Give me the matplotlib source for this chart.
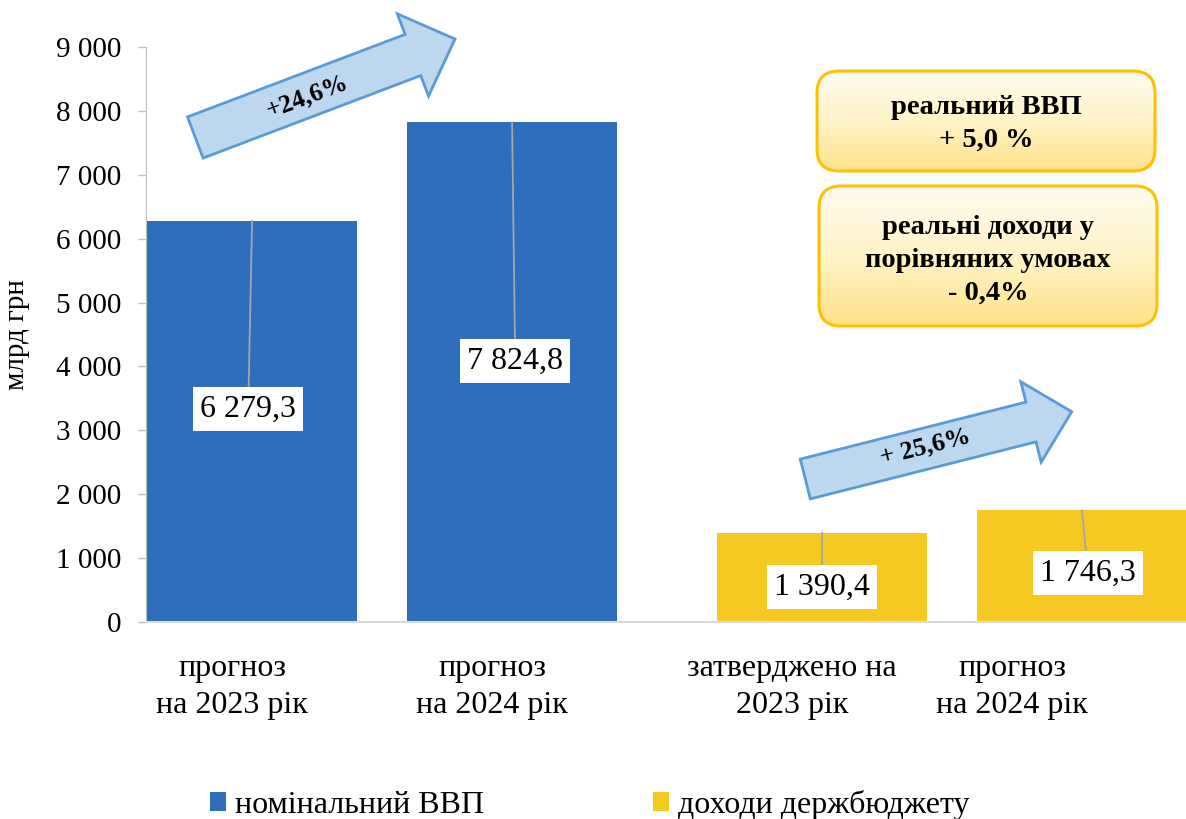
import matplotlib
matplotlib.use('Agg')
import matplotlib.pyplot as plt
import numpy as np
from matplotlib.patches import Polygon, FancyBboxPatch
from matplotlib.colors import LinearSegmentedColormap

plt.rcParams['font.family'] = ['Liberation Serif', 'DejaVu Serif']

# дані
cat_labels = ['прогноз\nна 2023 рік', 'прогноз\nна 2024 рік',
              'затверджено на\n2023 рік', 'прогноз\nна 2024 рік']
vvp = [6279.3, 7824.8]
budget = [1390.4, 1746.3]
value_text = ['6 279,3', '7 824,8', '1 390,4', '1 746,3']
yticks = [0, 1000, 2000, 3000, 4000, 5000, 6000, 7000, 8000, 9000]
ytick_labels = ['0', '1 000', '2 000', '3 000', '4 000', '5 000',
                '6 000', '7 000', '8 000', '9 000']
growth = ['+24,6%', '+ 25,6%']
real_text = ['реальний ВВП\n+ 5,0 %', 'реальні доходи у\nпорівняних умовах\n- 0,4%']
legend_names = ['номінальний ВВП', 'доходи держбюджету']

W, H = 1186, 819
fig = plt.figure(figsize=(W / 100, H / 100), dpi=100)
ax = fig.add_axes([146 / W, 1 - 622 / H, 1040 / W, 575 / H])

x_vvp = np.array([0.0, 1.0])
x_bud = np.array([2.192, 3.192])
b1 = ax.bar(x_vvp, vvp, width=0.808, color='#2F6EBA', zorder=2)
b2 = ax.bar(x_bud, budget, width=0.808, color='#F4C922', zorder=2)
ax.set_xlim(-0.408, 3.592)
ax.set_ylim(0, 9000)

# підписи значень з лініями-виносками
bar_x = list(x_vvp) + list(x_bud)
bar_top = vvp + budget
lab_x = [-0.015, 1.012, 2.192, 3.215]
lab_y = [3334, 4085, 548, 767]
for bx, bt, lx, ly, t in zip(bar_x, bar_top, lab_x, lab_y, value_text):
    ax.plot([bx, lx], [bt, ly], color='#A6A6A6', lw=1.3, zorder=3)
    ax.text(lx, ly, t, ha='center', va='center', fontsize=23, zorder=4,
            bbox=dict(boxstyle='square,pad=0.22', fc='white', ec='none'))

ax.set_yticks(yticks)
ax.set_yticklabels(ytick_labels)
ax.set_xticks([-0.077, 0.923, 2.077, 2.923])
ax.set_xticklabels(cat_labels)
for t in ax.get_xticklabels():
    t.set_linespacing(1.38)
ax.tick_params(axis='y', length=6, width=1, color='#BFBFBF', pad=12, labelsize=21)
ax.tick_params(axis='x', length=0, pad=23, labelsize=23)
ax.spines['top'].set_visible(False)
ax.spines['right'].set_visible(False)
ax.spines['left'].set_color('#BFBFBF')
ax.spines['bottom'].set_color('#D9D9D9')
ax.spines['bottom'].set_linewidth(1.5)
ax.set_ylabel('млрд грн', fontsize=21)
ax.yaxis.set_label_coords(-0.112, 0.5)


def block_arrow(tail, tip, shaft_w, head_w, head_len):
    tail = np.array(tail, float)
    tip = np.array(tip, float)
    u = (tip - tail) / np.hypot(*(tip - tail))
    n = np.array([u[1], -u[0]])
    base = tip - head_len * u
    pts = [tail + n * shaft_w / 2, base + n * shaft_w / 2, base + n * head_w / 2,
           tip, base - n * head_w / 2, base - n * shaft_w / 2, tail - n * shaft_w / 2]
    return [(p[0] / W, 1 - p[1] / H) for p in pts]


arrows = [((195.3, 137.5), (455, 39), 44, 88, 45, (307, 96), 20.6),
          ((805.3, 479), (1071.7, 411.7), 41, 83, 42, (925, 447), 14.2)]
for (tail, tip, sw, hw, hl, tc, rot), txt in zip(arrows, growth):
    fig.add_artist(Polygon(block_arrow(tail, tip, sw, hw, hl), closed=True,
                           transform=fig.transFigure, fc='#BDD7EE', ec='#5B9BD5',
                           lw=2, zorder=5))
    fig.text(tc[0] / W, 1 - tc[1] / H, txt, rotation=rot, rotation_mode='anchor',
             ha='center', va='center', fontsize=18.5, fontweight='bold', zorder=6)

# блоки з реальними показниками
cmap = LinearSegmentedColormap.from_list('g', ['#FFFCF2', '#FFF3C8', '#FFE28A'])
boxes = [(817, 71, 1155, 171), (819, 186, 1157, 326)]
for (x0, y0, x1, y1), txt in zip(boxes, real_text):
    bax = fig.add_axes([x0 / W, 1 - y1 / H, (x1 - x0) / W, (y1 - y0) / H])
    bax.set_xlim(0, 1)
    bax.set_ylim(0, 1)
    bax.axis('off')
    w, h = x1 - x0, y1 - y0
    patch = FancyBboxPatch((0, 0), 1, 1, boxstyle='round,pad=0,rounding_size=%f' % (22 / w),
                           mutation_aspect=w / h, fc='none', ec='#FFC000', lw=2.2,
                           clip_on=False, zorder=3)
    bax.add_patch(patch)
    grad = np.linspace(0, 1, 200).reshape(-1, 1)
    im = bax.imshow(grad, extent=(0, 1, 0, 1), origin='upper', aspect='auto',
                    cmap=cmap, zorder=1)
    im.set_clip_path(patch)
    bax.text(0.5, 0.47, txt, ha='center', va='center', fontsize=20.5,
             fontweight='bold', linespacing=1.4, zorder=4)

fig.legend([b1, b2], legend_names, loc='center', bbox_to_anchor=(590 / W, 1 - 805 / H),
           ncol=2, frameon=False, fontsize=23, handlelength=0.5, handleheight=0.55,
           handletextpad=0.28, columnspacing=5.3)

fig.savefig('out.png', dpi=100)
